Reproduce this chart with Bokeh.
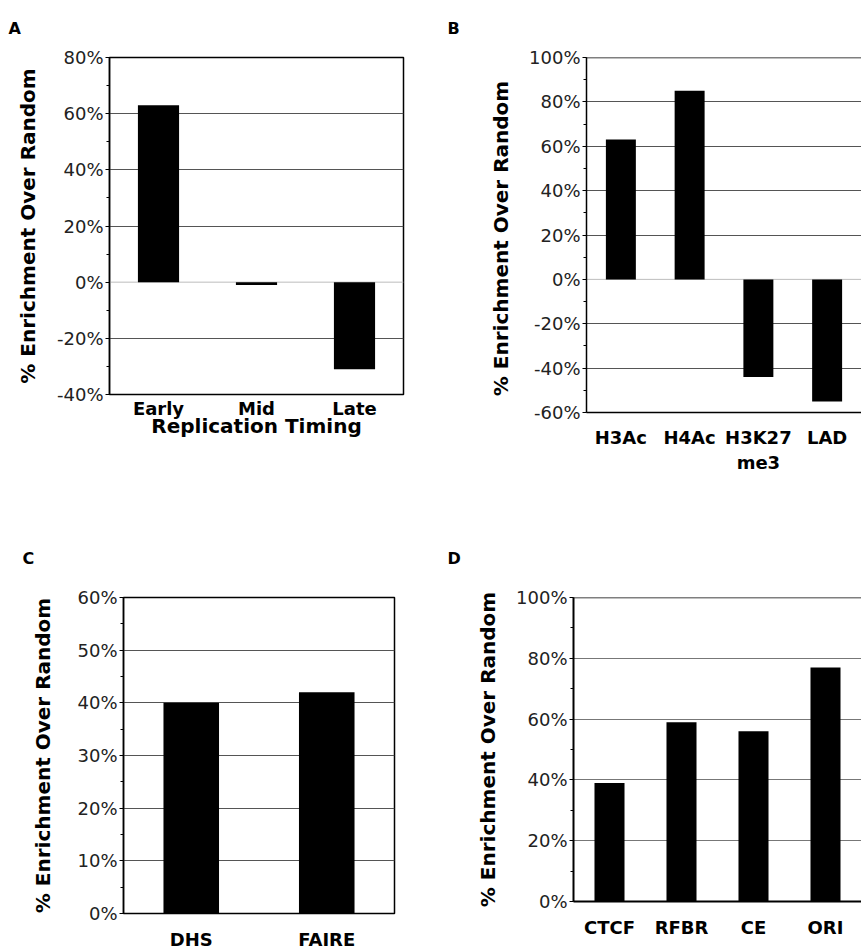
from bokeh.plotting import figure
from bokeh.models import (Range1d, FactorRange, SingleIntervalTicker, FixedTicker,
                          PrintfTickFormatter, Span, Title)
from bokeh.layouts import row, column
from bokeh.embed import file_html
from bokeh.resources import INLINE

FONT = "DejaVu Sans"

# ---------------- data ----------------
a_categories = ["Early", "Mid", "Late"]
a_values = [63, -1, -31]
a_yrange = (-40, 80)
a_step = 20
a_xtitle = "Replication Timing"

b_categories = ["H3Ac", "H4Ac", "H3K27\nme3", "LAD"]
b_values = [63, 85, -44, -55]
b_yrange = (-60, 100)
b_step = 20

c_categories = ["DHS", "FAIRE"]
c_values = [40, 42]
c_yrange = (0, 60)
c_step = 10

d_categories = ["CTCF", "RFBR", "CE", "ORI"]
d_values = [39, 59, 56, 77]
d_yrange = (0, 100)
d_step = 20

ytitle = "% Enrichment Over Random"
ytitle_b = "% Enrichment  Over Random"
letters = ["A", "B", "C", "D"]


def panel(cats, vals, yr, step, w, h, borders, bar_w, grid_color, boxed,
          x_standoff, letter, letter_offset, letter_standoff, ylab,
          ylab_standoff, zero_line, axis_w=1.5):
    l, r, t, b = borders
    p = figure(width=w, height=h, x_range=FactorRange(*cats),
               y_range=Range1d(yr[0], yr[1]), output_backend="svg",
               toolbar_location=None,
               min_border_left=l, min_border_right=r, min_border_top=t,
               min_border_bottom=b)
    p.title = Title(text=letter, align="left", vertical_align="top",
                    offset=letter_offset, standoff=letter_standoff,
                    text_font=FONT, text_font_style="bold",
                    text_font_size="16px", text_color="black")
    p.background_fill_color = "white"
    p.border_fill_color = "white"
    if boxed:
        p.outline_line_color = "black"
        p.outline_line_width = 1.5
    else:
        p.outline_line_color = None
        p.add_layout(Span(location=yr[1], dimension="width", line_color="black",
                          line_width=1.5))
    p.xgrid.grid_line_color = None
    p.ygrid.ticker = FixedTicker(ticks=[v for v in range(yr[0], yr[1] + 1, step)
                                        if v not in (0, yr[0], yr[1])])
    p.ygrid.grid_line_color = grid_color
    p.ygrid.grid_line_width = 1

    if zero_line:
        p.add_layout(Span(location=0, dimension="width", line_color="#bdbdbd",
                          line_width=1, level="underlay"))

    p.vbar(x=cats, top=vals, bottom=0, width=bar_w, fill_color="black",
           line_color=None)

    ya = p.yaxis[0]
    ya.ticker = SingleIntervalTicker(interval=step, num_minor_ticks=2)
    ya.formatter = PrintfTickFormatter(format="%d%%")
    ya.major_tick_in = 0
    ya.major_tick_out = 4
    ya.minor_tick_in = 0
    ya.minor_tick_out = 3
    ya.major_tick_line_color = "black"
    ya.minor_tick_line_color = "black"
    ya.axis_line_color = "black"
    ya.axis_line_width = axis_w
    ya.major_label_standoff = 2
    ya.major_label_text_font = FONT
    ya.major_label_text_font_size = "18px"
    ya.major_label_text_color = "#222222"
    ya.axis_label = ylab
    ya.axis_label_text_font = FONT
    ya.axis_label_text_font_style = "bold"
    ya.axis_label_text_font_size = "20px"
    ya.axis_label_text_color = "black"
    ya.axis_label_standoff = ylab_standoff

    xa = p.xaxis[0]
    xa.major_tick_line_color = None
    xa.major_tick_in = 0
    xa.major_tick_out = 0
    xa.axis_line_color = None if boxed else "black"
    xa.axis_line_width = axis_w
    xa.major_label_standoff = x_standoff
    xa.major_label_text_font = FONT
    xa.major_label_text_font_style = "bold"
    xa.major_label_text_font_size = "18px"
    xa.major_label_text_color = "black"
    return p


pA = panel(a_categories, a_values, a_yrange, a_step, 430, 520,
           (109, 27, 57, 126), 0.42, "#555555", True, 3,
           letters[0], -101, 36, ytitle, 14, True)
pA.xaxis.axis_label = a_xtitle
pA.xaxis.axis_label_text_font = FONT
pA.xaxis.axis_label_text_font_style = "bold"
pA.xaxis.axis_label_text_font_size = "20px"
pA.xaxis.axis_label_text_color = "black"
pA.xaxis.axis_label_standoff = -8

pB = panel(b_categories, b_values, b_yrange, b_step, 431, 520,
           (156, 0, 57, 108), 0.436, "#555555", False, 14,
           letters[1], -139, 36, ytitle_b, 13, True)

pC = panel(c_categories, c_values, c_yrange, c_step, 430, 432,
           (123, 36, 77, 38), 0.41, "#555555", True, 15,
           letters[2], -101, 56, ytitle, 19, False)

pD = panel(d_categories, d_values, d_yrange, d_step, 431, 432,
           (143, 0, 77, 51), 0.417, "#777777", False, 15,
           letters[3], -126, 56, ytitle, 13, False, axis_w=2)

layout = column(row(column(pA), column(pB)), row(column(pC), column(pD)))

with open("out.html", "w") as f:
    f.write(file_html(layout, INLINE))
